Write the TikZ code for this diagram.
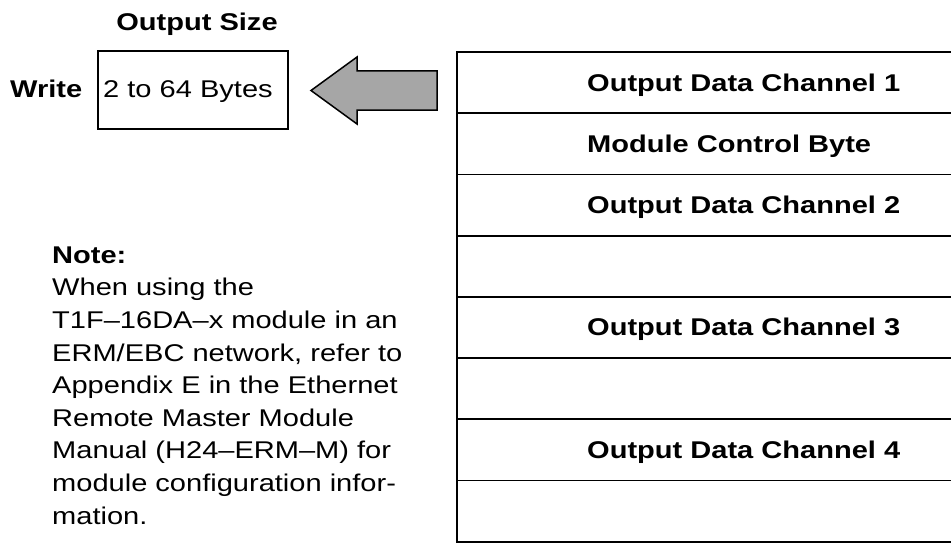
\documentclass[tikz,border=0pt]{standalone}
\usepackage{fontspec}
\setmainfont[FakeStretch=1.2]{Liberation Sans}
\definecolor{arrowgray}{RGB}{166,166,166}
\tikzset{
  lbl/.style={inner sep=0pt, anchor=base west, font=\fontsize{24.2}{29}\selectfont},
  blbl/.style={lbl, font=\fontsize{24.2}{29}\selectfont\bfseries},
  rowbox/.style={draw, line width=1.8pt, rectangle, inner sep=0pt,
    minimum width=495pt, minimum height=61.2pt},
  sizebox/.style={draw, line width=1.5pt, rectangle, inner sep=0pt,
    minimum width=190pt, minimum height=78pt},
  bigarrow/.style={draw, line width=1.5pt, fill=arrowgray, line join=miter}
}
\begin{document}
\begin{tikzpicture}[x=1pt,y=-1pt]
\useasboundingbox (0,0) rectangle (951,543);
% header and size box
\node[blbl, anchor=base] (outsize) at (197,31) {Output Size};
\node[blbl] (write) at (10,98) {Write};
\node[sizebox] (box) at (193,90) {};
\node[lbl] (bytes) at (103,98) {2 to 64 Bytes};
% arrow
\draw[bigarrow] (437,71) -- (357,71) -- (357,57) -- (311,90.5) -- (357,124)
  -- (357,110) -- (437,110) -- cycle;
% table rows
\foreach \i in {1,...,8}{
  \node[rowbox] (row\i) at (704.5,{52+61.2*(\i-0.5)}) {};
}
\node[blbl] (t1) at (587,{52+61.2*0.5+8.5}) {Output Data Channel 1};
\node[blbl] (t2) at (587,{52+61.2*1.5+8.5}) {Module Control Byte};
\node[blbl] (t3) at (587,{52+61.2*2.5+8.5}) {Output Data Channel 2};
\node[blbl] (t5) at (587,{52+61.2*4.5+8.5}) {Output Data Channel 3};
\node[blbl] (t7) at (587,{52+61.2*6.5+8.5}) {Output Data Channel 4};
% note
\node[blbl] (note0) at (52,263.3) {Note:};
\node[lbl] (note1) at (52,{263.3+32.6*1}) {When using the};
\node[lbl] (note2) at (52,{263.3+32.6*2}) {T1F–16DA–x module in an};
\node[lbl] (note3) at (52,{263.3+32.6*3}) {ERM/EBC network, refer to};
\node[lbl] (note4) at (52,{263.3+32.6*4}) {Appendix E in the Ethernet};
\node[lbl] (note5) at (52,{263.3+32.6*5}) {Remote Master Module};
\node[lbl] (note6) at (52,{263.3+32.6*6}) {Manual (H24–ERM–M) for};
\node[lbl] (note7) at (52,{263.3+32.6*7}) {module configuration infor-};
\node[lbl] (note8) at (52,{263.3+32.6*8}) {mation.};
\end{tikzpicture}
\end{document}
